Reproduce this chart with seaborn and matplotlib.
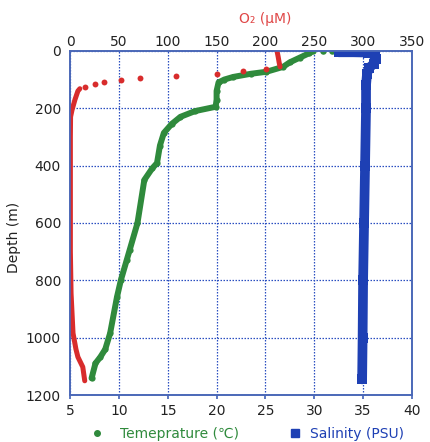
import matplotlib
matplotlib.use('Agg')
import matplotlib.pyplot as plt
from matplotlib.lines import Line2D
import pandas as pd
import seaborn as sns

# Temperature profile (degC vs depth m)
temp_c = [29.9, 29.5, 28.5, 27.5, 26.8, 25.1, 23.5, 21.7, 20.8, 20.2, 20.0, 20.0, 19.9,
          17.8, 16.3, 15.4, 14.6, 14.2, 13.9, 13.4, 12.6, 11.9, 11.1, 10.8, 10.2, 9.8,
          9.1, 8.6, 8.1, 7.6, 7.2]
temp_depth = [0, 8, 24, 40, 56, 73, 80, 91, 100, 110, 140, 170, 195,
              210, 230, 255, 286, 330, 391, 410, 450, 600, 694, 729, 799, 858,
              984, 1040, 1067, 1089, 1141]
temp_surf_c = [30.9, 31.8]
temp_surf_depth = [2, 2]

# Salinity profile (PSU vs depth m)
sal_psu = [32.5, 34.0, 35.5, 36.2, 36.3, 36.1, 35.6, 35.4, 35.3, 35.3, 35.2, 35.1,
           35.0, 34.95, 34.9]
sal_depth = [5, 5, 6, 15, 30, 45, 60, 80, 120, 200, 400, 600, 800, 1000, 1145]

# Oxygen (uM vs depth m)
o2_top = [212, 213, 214, 215]
o2_top_depth = [3, 20, 40, 56]
o2_mid = [201, 177, 150, 108, 72, 52, 35, 25, 15.6]
o2_mid_depth = [62, 69, 80, 87, 93, 103, 110, 116, 126]
o2_deep = [10, 8, 5, 2, 0.5, 0.3, 0.3, 0.3, 1, 3, 6, 8, 13, 15]
o2_deep_depth = [132, 140, 170, 206, 230, 300, 500, 700, 845, 984, 1040, 1067, 1102, 1150]

green = '#2f8a3c'
blue = '#1e40b4'
red = '#d82c2c'
frame = '#4a68b8'

sns.set_theme(style='white')
plt.rcParams['font.family'] = ['DejaVu Sans', 'Noto Sans CJK JP']

fig = plt.figure(figsize=(4.3, 4.42), dpi=100)
ax = fig.add_axes([0.163, 0.106, 0.795, 0.779])

t = pd.DataFrame({'x': temp_c, 'depth': temp_depth})
s = pd.DataFrame({'x': sal_psu, 'depth': sal_depth})

sns.lineplot(data=s, x='x', y='depth', sort=False, estimator=None, color=blue,
             lw=7, marker='s', markersize=7, markeredgewidth=0, ax=ax)
sns.lineplot(data=t, x='x', y='depth', sort=False, estimator=None, color=green,
             lw=4.3, marker='o', markersize=4.5, markeredgewidth=0, ax=ax)
sns.scatterplot(x=temp_surf_c, y=temp_surf_depth, color=green, s=22, linewidth=0, ax=ax)

ax.set_xlim(5, 40)
ax.set_ylim(1200, 0)
ax.set_xticks(range(5, 41, 5))
ax.set_yticks(range(0, 1201, 200))
ax.set_xlabel('')
ax.set_ylabel('Depth (m)', fontsize=10, color='#222222')
ax.yaxis.set_label_coords(-0.143, 0.459)
ax.grid(True, color='#2a4fc0', linestyle=(0, (1.2, 1.2)), linewidth=0.9)
for sp in ax.spines.values():
    sp.set_color(frame)
    sp.set_linewidth(1.2)
ax.tick_params(axis='both', labelsize=10, colors='#222222', length=3,
               direction='out', color=frame)

ax2 = ax.twiny()
sns.lineplot(x=o2_top, y=o2_top_depth, sort=False, estimator=None, color=red,
             lw=3.6, ax=ax2)
sns.scatterplot(x=o2_mid, y=o2_mid_depth, color=red, s=18, linewidth=0, ax=ax2)
sns.lineplot(x=o2_deep, y=o2_deep_depth, sort=False, estimator=None, color=red,
             lw=3.6, ax=ax2)
ax2.set_xlim(0, 350)
ax2.set_ylim(1200, 0)
ax2.set_xticks(range(0, 351, 50))
ax2.set_xlabel('O₂ (μM)', color='#e04848', fontsize=10)
ax2.xaxis.set_label_coords(0.57, 1.081)
ax2.tick_params(axis='x', labelsize=10, colors='#222222', length=0, pad=1)
ax2.grid(False)
for sp in ax2.spines.values():
    sp.set_color(frame)
    sp.set_linewidth(1.2)

# two legend entries placed separately under the axes
leg1 = fig.legend([Line2D([], [], marker='o', color=green, linestyle='', markersize=4)],
                  ['Temeprature (℃)'], loc='center left', bbox_to_anchor=(0.209, 0.019),
                  frameon=False, fontsize=10, handlelength=1.0, handletextpad=1.15,
                  borderpad=0, borderaxespad=0)
leg1.get_texts()[0].set_color(green)
leg2 = fig.legend([Line2D([], [], marker='s', color=blue, linestyle='', markersize=6)],
                  ['Salinity (PSU)'], loc='center left', bbox_to_anchor=(0.67, 0.019),
                  frameon=False, fontsize=10, handlelength=1.0, handletextpad=0.58,
                  borderpad=0, borderaxespad=0)
leg2.get_texts()[0].set_color(blue)

fig.savefig('out.png', dpi=100)
